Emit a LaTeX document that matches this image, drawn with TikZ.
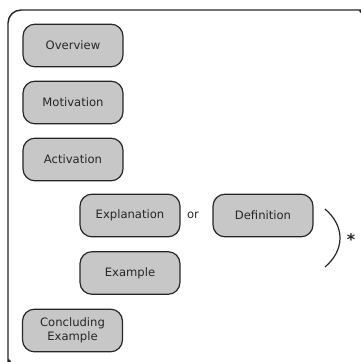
\documentclass[tikz,border=0pt]{standalone}
\usepackage{fontspec}
\setmainfont{DejaVu Sans}
\usetikzlibrary{positioning}
\tikzset{
    stepnode/.style = {rectangle, rounded corners=9pt, draw=black!85, line width=0.9pt, fill=black!22, align=center, minimum width=75pt, minimum height=32pt, inner sep=0pt, font=\fontsize{8.7}{10.5}\selectfont, text=black!85},
    outerframe/.style = {draw=black!85, line width=1.1pt, rounded corners=9.75pt},
    ortext/.style = {font=\fontsize{8.7}{10.5}\selectfont, text=black!85},
    startext/.style = {font=\fontsize{12}{12}\bfseries\selectfont, text=black!85, inner sep=0pt}
}
\begin{document}
\begin{tikzpicture}[x=0.75pt, y=-0.75pt]
\useasboundingbox (0,0) rectangle (361,362);

% outer frame (only the part inside the picture)
\coordinate (frameBL) at (10.5,362);
\coordinate (frameTR) at (361,12.5);
\draw[outerframe] (frameBL) .. controls (9,359.5) and (8,357.5) .. (8,355)
    -- (8,10) -- (354,10) .. controls (357.5,10) and (360,10.8) .. (frameTR);

\node[stepnode] at ( 73.0,  45.5) (overview) {Overview};
\node[stepnode] at ( 73.0, 102.5) (motivation) {Motivation};
\node[stepnode] at ( 73.0, 159.5) (activation) {Activation};
\node[stepnode] at (130.0, 215.5) (explanation) {Explanation};
\node[ortext]   at (193.0, 215.5) (or) {or};
\node[stepnode] at (263.0, 215.5) (definition) {Definition};
\node[stepnode] at (130.0, 273.0) (example) {Example};
\node[stepnode] at ( 72.5, 330.5) (concluding) {Concluding\\Example};

% bracket
\draw[black!85, line width=0.9pt] (325,209) .. controls (345,226) and (345,250) .. (325,267);
\node[startext] at (351,240) (star) {*};

\end{tikzpicture}
\end{document}
